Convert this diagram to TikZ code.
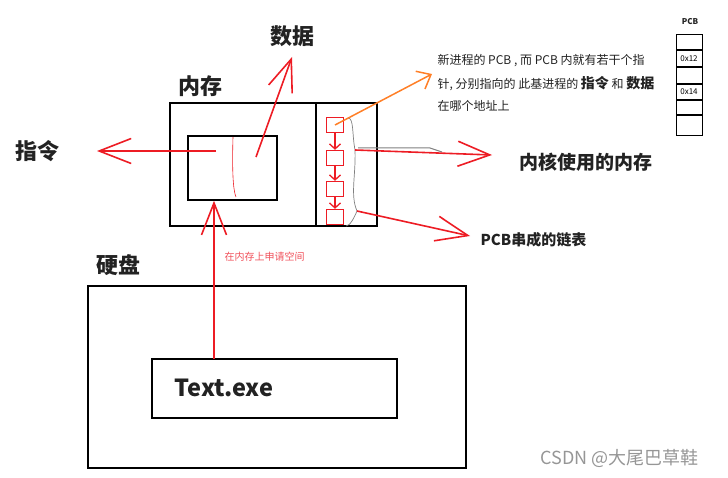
\documentclass[tikz,border=0pt]{standalone}
\usepackage{fontspec}
\setmainfont{Noto Sans CJK SC}
\usetikzlibrary{arrows.meta}
\definecolor{penred}{RGB}{237,28,36}
\definecolor{penorange}{RGB}{255,127,39}
\definecolor{notered}{RGB}{240,80,90}
\definecolor{darktext}{RGB}{34,34,34}
\definecolor{markgray}{RGB}{150,150,150}
\tikzset{
  box/.style={draw, line width=1.5pt, inner sep=0pt},
  pcbbox/.style={draw=penred, line width=1.4pt, minimum width=17pt, minimum height=15pt, inner sep=0pt},
  tablerow/.style={draw, line width=1pt, minimum width=26pt, inner sep=0pt, font=\fontsize{8}{9}\selectfont},
  bigarrow/.style={draw=penred, line width=1.6pt, -{Straight Barb[length=32pt,width=25pt,line width=1.6pt]}},
  smallarrow/.style={draw=penred, line width=1.3pt, -{Straight Barb[length=5pt,width=11pt]}},
  title/.style={font=\bfseries\fontsize{22}{26}\selectfont, text=darktext},
  label/.style={font=\bfseries\fontsize{15}{18}\selectfont, text=darktext, anchor=west},
  note/.style={font=\fontsize{12}{14}\selectfont, text=darktext, anchor=west}
}
\begin{document}
\begin{tikzpicture}[x=1pt, y=-1pt]
\useasboundingbox (0,0) rectangle (728,478);
% memory
\node[box, minimum width=207pt, minimum height=123pt] (mem) at (273.5,164.5) {};
\draw[line width=1.5pt] (mem.north -| 316,0) -- (mem.south -| 316,0);
\node[box, minimum width=89pt, minimum height=64pt] (code) at (232.5,168) {};
\node[title] (memlabel) at (200,86) {内存};
% pcb chain
\node[pcbbox] (p1) at (335,125) {};
\node[pcbbox] (p2) at (335,158) {};
\node[pcbbox] (p3) at (335,189) {};
\node[pcbbox] (p4) at (335,217) {};
\draw[smallarrow] (p1) -- (p2);
\draw[smallarrow] (p2) -- (p3);
\draw[smallarrow] (p3) -- (p4);
\coordinate (bracetop) at (348,118);
\coordinate (bracemid) at (355,150);
\coordinate (bracelow) at (357,211);
\draw[gray, line width=0.7pt] (bracetop) .. controls (354,118) and (352,135) .. (bracemid)
  .. controls (356,175) and (350,195) .. (bracelow) .. controls (354,218) and (350,226) .. (346,226);
\draw[gray, line width=1pt] (358,148) -- (430,148) -- (442,152);
% disk
\node[box, minimum width=378pt, minimum height=182pt] (disk) at (277,377) {};
\node[title] (disklabel) at (118,265) {硬盘};
\node[box, minimum width=245pt, minimum height=59pt] (exe) at (274.5,388.5) {};
\node[font=\bfseries\fontsize{23.5}{27}\selectfont, text=darktext, anchor=west] (exename) at (171,388) {Text.exe};
% arrows and texts
\node[title] (instr) at (38,151) {指令};
\node[title] (data) at (292,36) {数据};
\node[font=\bfseries\fontsize{19}{22}\selectfont, text=darktext, anchor=west] (kernel) at (516,162) {内核使用的内存};
\node[label] (chain) at (477,240) {PCB串成的链表};
\node[font=\fontsize{10}{12}\selectfont, text=notered, anchor=west] (ask) at (221,257) {在内存上申请空间};
\node[note] (n1) at (434,61) {新进程的 PCB , 而 PCB 内就有若干个指};
\node[note] (n2) at (434,84) {针, 分别指向的 此基进程的 {\bfseries\fontsize{14}{16}\selectfont 指令} 和 {\bfseries\fontsize{14}{16}\selectfont 数据}};
\node[note] (n3) at (434,106) {在哪个地址上};
\coordinate (instrsrc) at (216,151);
\coordinate (instrtip) at (97,151);
\coordinate (datasrc) at (256,157);
\coordinate (datatip) at (292,57);
\coordinate (exetop) at (214,359);
\coordinate (kerntip) at (492,155);
\coordinate (chaintip) at (470,236);
\coordinate (notetip) at (432,74);
\draw[bigarrow] (instrsrc) -- (instrtip);
\draw[bigarrow] (datasrc) -- (datatip);
\draw[bigarrow] (exetop) -- (code.south -| exetop);
\draw[bigarrow] (bracemid) -- (kerntip);
\draw[bigarrow] (bracelow) -- (chaintip);
\draw[draw=penorange, line width=1.5pt, -{Straight Barb[length=12pt,width=20pt,line width=1.5pt]}] (p1.center) -- (notetip);
\draw[penred, line width=0.6pt] (233,137) .. controls (232,170) and (233,190) .. (236,197);
% pcb table
\node[font=\bfseries\fontsize{8}{9}\selectfont, text=darktext] (pcbtitle) at (690,22) {PCB};
\node[tablerow, minimum height=15pt, anchor=north] (r1) at (689,34) {};
\node[tablerow, minimum height=16pt, anchor=north] (r2) at (r1.south) {0x12};
\node[tablerow, minimum height=16pt, anchor=north] (r3) at (r2.south) {};
\node[tablerow, minimum height=15pt, anchor=north] (r4) at (r3.south) {0x14};
\node[tablerow, minimum height=14pt, anchor=north] (r5) at (r4.south) {};
\node[tablerow, minimum height=20pt, anchor=north] (r6) at (r5.south) {};
% watermark
\node[font=\fontsize{18}{21}\selectfont, text=markgray, anchor=west] (mark) at (537,458) {CSDN @大尾巴草鞋};
\end{tikzpicture}
\end{document}
